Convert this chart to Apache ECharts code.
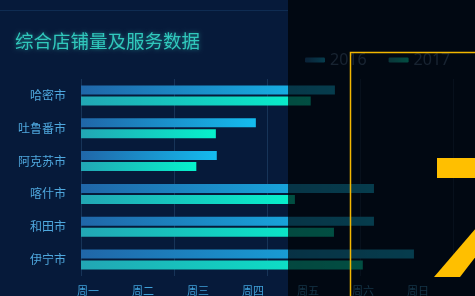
<!DOCTYPE html>
<html><head><meta charset="utf-8">
<script src="https://cdn.jsdelivr.net/npm/echarts@6/dist/echarts.min.js"></script>
<style>html,body{margin:0;padding:0;background:#061a3a;}#c{width:475px;height:296px;}</style>
</head><body><div id="c"></div>
<script>
const titleText = '综合店铺量及服务数据';
const seriesNames = ['2016', '2017'];
const categories = ['哈密市', '吐鲁番市', '阿克苏市', '喀什市', '和田市', '伊宁市'];
const days = ['周一', '周二', '周三', '周四', '周五', '周六', '周日'];
const values2016 = [273, 188, 146, 315, 315, 358];
const values2017 = [247, 145, 124, 230, 272, 303];

const chart = echarts.init(document.getElementById('c'));
const grad = (a, b) => new echarts.graphic.LinearGradient(0, 0, 1, 0, [{offset: 0, color: a}, {offset: 1, color: b}]);
chart.setOption({
  backgroundColor: '#061a3a',
  animation: false,
  title: {text: titleText, left: 10, top: 27, textStyle: {color: '#30c8bc', fontSize: 18.5, fontWeight: 'normal', fontFamily: 'Noto Sans CJK SC',
    textShadowColor: 'rgba(48,200,188,0.6)', textShadowBlur: 4}},
  legend: {data: seriesNames, left: 300, top: 47, itemWidth: 20, itemHeight: 5, itemGap: 22,
    textStyle: {color: '#4a6e98', fontSize: 16, fontFamily: 'Noto Sans'}},
  grid: [
    {left: 81, right: 22, top: 79, bottom: 20},
    {left: 88, right: 57, top: 79, bottom: 20}
  ],
  xAxis: [
    {type: 'value', gridIndex: 0, min: 0, max: 400, interval: 100,
      axisLine: {show: false}, axisTick: {show: false}, axisLabel: {show: false},
      splitLine: {lineStyle: {color: '#173458', width: 1}}},
    {type: 'category', gridIndex: 1, data: days, boundaryGap: false,
      axisLine: {show: false}, axisTick: {show: false}, splitLine: {show: false},
      axisLabel: {color: '#3fa0d8', fontSize: 11, margin: 9, fontFamily: 'Noto Sans CJK SC'}}
  ],
  yAxis: [
    {type: 'category', gridIndex: 0, data: categories, inverse: true,
      axisLine: {show: false}, axisTick: {show: false}, splitLine: {show: false},
      axisLabel: {color: '#4fa8de', fontSize: 12, margin: 15, fontFamily: 'Noto Sans CJK SC'}},
    {type: 'value', gridIndex: 1, show: false}
  ],
  series: [
    {name: seriesNames[0], type: 'bar', xAxisIndex: 0, yAxisIndex: 0, data: values2016, barWidth: 9, barGap: '22%',
      itemStyle: {color: grad('#2066a8', '#14bcef')}},
    {name: seriesNames[1], type: 'bar', xAxisIndex: 0, yAxisIndex: 0, data: values2017, barWidth: 9,
      itemStyle: {color: grad('#22a6b4', '#06f2cc')}}
  ],
  graphic: [
    {type: 'line', z: 1, shape: {x1: 0, y1: 10.5, x2: 288, y2: 10.5}, style: {stroke: '#0f2c52', lineWidth: 1}},
    {type: 'rect', z: 100, shape: {x: 288, y: 0, width: 187, height: 296}, style: {fill: 'rgba(0,0,0,0.68)'}},
    {type: 'rect', z: 101, shape: {x: 350.5, y: 52.5, width: 200, height: 300}, style: {fill: 'none', stroke: '#f2b600', lineWidth: 1.5}},
    {type: 'rect', z: 101, shape: {x: 437, y: 158, width: 40, height: 20}, style: {fill: '#ffbf00'}},
    {type: 'polygon', z: 101, shape: {points: [[434, 277], [460, 277], [477, 255], [477, 227]]}, style: {fill: '#ffbf00'}}
  ]
});
</script></body></html>
